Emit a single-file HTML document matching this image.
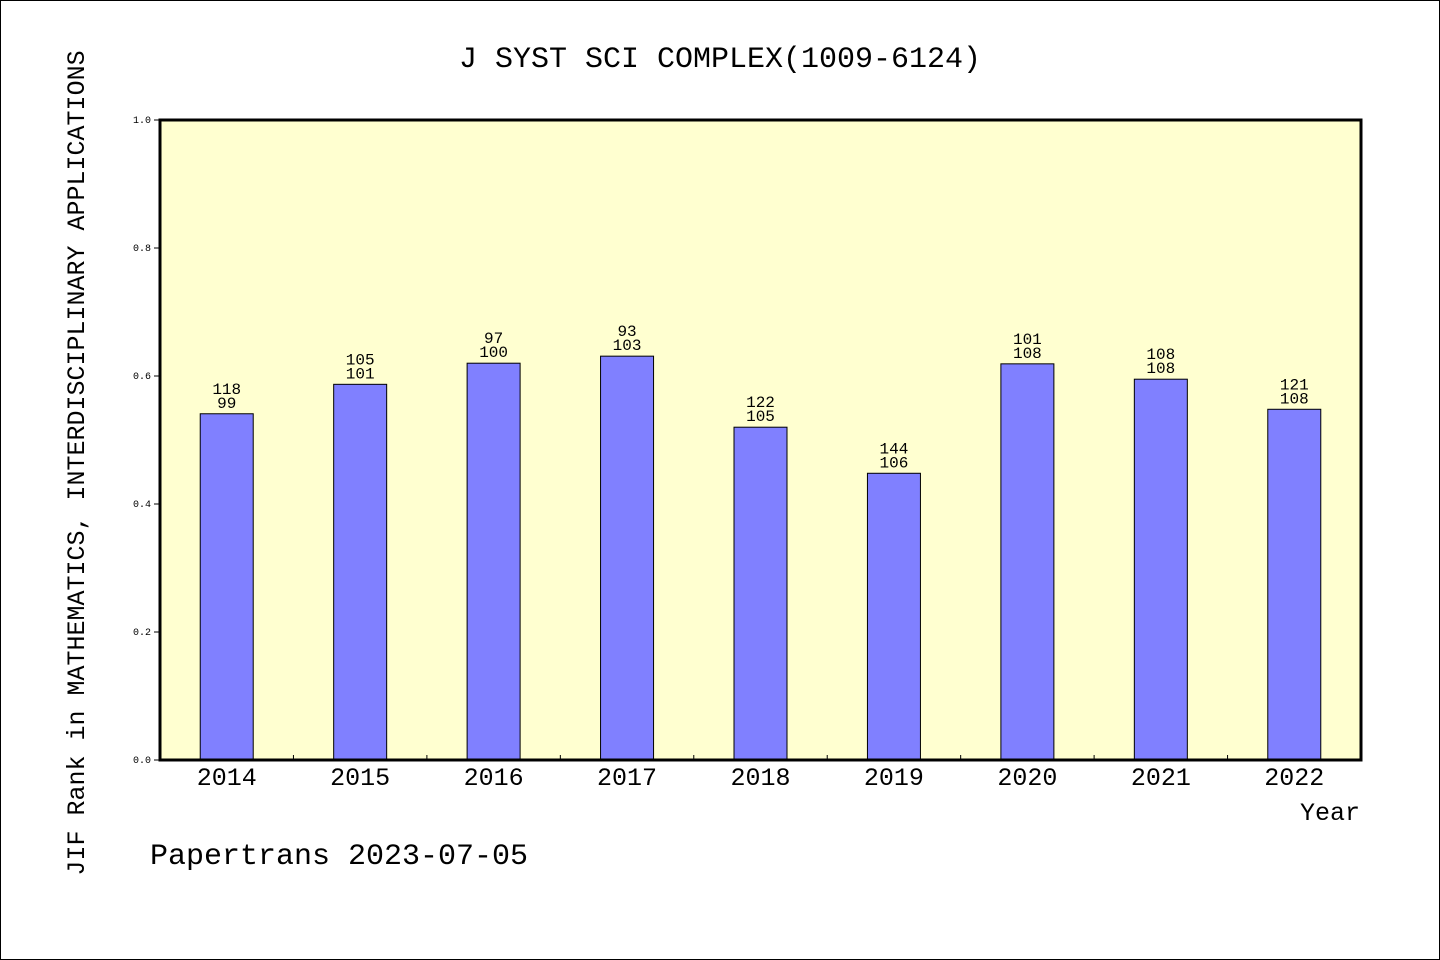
<!DOCTYPE html>
<html><head><meta charset="utf-8"><style>
html,body{margin:0;padding:0;background:#fff}
svg{display:block}
text{font-family:"Liberation Mono","WenQuanYi Zen Hei",monospace;fill:#000}
</style></head><body>
<svg id="chart" width="1440" height="960">
<rect x="0.5" y="0.5" width="1439" height="959" fill="#fff" stroke="#000"/>
<text x="720" y="67" font-size="30" text-anchor="middle">J SYST SCI COMPLEX(1009-6124)</text>
<rect x="160" y="120" width="1201" height="640" fill="#ffffd0"/>
<g id="bars"></g>
<rect x="160" y="120" width="1201" height="640" fill="none" stroke="#000" stroke-width="3"/>
<g id="axes"></g>
<text x="84" y="463" font-size="25" text-anchor="middle" transform="rotate(-90 84 463)">JIF Rank in MATHEMATICS, INTERDISCIPLINARY APPLICATIONS</text>
<text x="1360" y="820" font-size="25" text-anchor="end">Year</text>
<text x="150" y="864" font-size="30">Papertrans 2023-07-05</text>
</svg>
<script>
const years=["2014","2015","2016","2017","2018","2019","2020","2021","2022"];
const values=[0.541,0.587,0.620,0.631,0.520,0.448,0.619,0.595,0.548];
const topLabels=["118","105","97","93","122","144","101","108","121"];
const bottomLabels=["99","101","100","103","105","106","108","108","108"];
const yTicks=[0,0.2,0.4,0.6,0.8,1.0];
const NS="http://www.w3.org/2000/svg";
const X0=160,W=1201,Y0=760,H=640;
const step=W/years.length;
const xc=i=>X0+step*(i+0.5);
const y=v=>Y0-v*H;
function mk(tag,attrs,parent,txt){const e=document.createElementNS(NS,tag);for(const k in attrs)e.setAttribute(k,attrs[k]);if(txt!==undefined)e.textContent=txt;parent.appendChild(e);return e;}
const bars=document.getElementById('bars'),axes=document.getElementById('axes');
years.forEach((yr,i)=>{
  const bw=53,top=y(values[i]);
  const r=mk('rect',{x:xc(i)-bw/2,y:top,width:bw,height:Y0-top,fill:'#8080ff',stroke:'#000','stroke-width':1},bars);
  
  
  const t1=mk('text',{x:xc(i),y:top-20,'font-size':16,'text-anchor':'middle'},bars,topLabels[i]);
  
  
  const t2=mk('text',{x:xc(i),y:top-6,'font-size':16,'text-anchor':'middle'},bars,bottomLabels[i]);
  
  
  const xl=mk('text',{x:xc(i),y:785,'font-size':25,'text-anchor':'middle'},axes,yr);
  
  
  if(i>0){const tk=mk('line',{x1:X0+step*i,x2:X0+step*i,y1:Y0,y2:Y0-5,stroke:'#000'},axes);
  
  }
});
yTicks.forEach(v=>{
  const tk=mk('line',{x1:X0-6,x2:X0,y1:y(v),y2:y(v),stroke:'#000'},axes);
  
  
  const tl=mk('text',{x:X0-9,y:y(v)+3,'font-size':10,'text-anchor':'end'},axes,v.toFixed(1));
  
  
});
</script>
</body></html>
